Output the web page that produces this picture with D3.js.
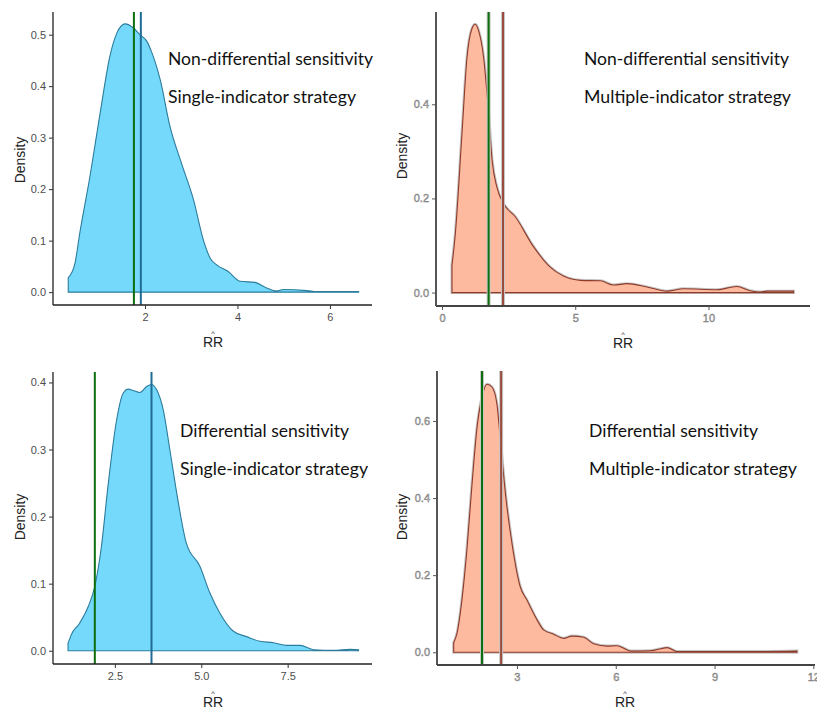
<!DOCTYPE html>
<html><head><meta charset="utf-8">
<script src="https://cdn.jsdelivr.net/npm/d3@7"></script>
<style>body{margin:0;background:#fff}svg{display:block}</style>
</head><body><svg id="c" width="817" height="711"></svg>
<script>
// ---------- data ----------
const rrNdSingle   = [0.34,0.485,0.59,0.81,1.03,1.24,1.39,1.57,1.75,1.89,2.04,2.14,2.33,2.54,2.79,3.05,3.26,3.41,3.55,3.80,4.06,4.38,4.63,4.85,4.99,5.50,5.72,6.37,6.62];
const densNdSingle = [0.028,0.056,0.115,0.225,0.348,0.458,0.503,0.521,0.513,0.500,0.487,0.467,0.412,0.322,0.250,0.179,0.102,0.066,0.053,0.040,0.021,0.019,0.008,0.002,0.005,0.003,0.001,0.001,0.001];
const rrNdMulti    = [0.375,0.5,0.75,0.94,1.12,1.25,1.37,1.56,1.75,1.88,2.06,2.31,2.75,3.44,4.06,4.56,5.19,5.94,6.44,6.94,7.69,8.44,9.06,10.31,11.06,11.56,11.94,12.19,13.19];
const densNdMulti  = [0.058,0.125,0.338,0.5,0.56,0.57,0.557,0.5,0.38,0.281,0.224,0.189,0.161,0.097,0.054,0.035,0.026,0.025,0.016,0.019,0.012,0.003,0.008,0.006,0.013,0.004,0.001,0.003,0.003];
const rrDSingle    = [1.145,1.24,1.48,1.73,1.92,2.11,2.30,2.55,2.74,2.89,3.03,3.22,3.42,3.56,3.71,3.90,4.09,4.29,4.57,4.96,5.25,5.54,5.93,6.31,6.70,7.09,7.48,7.86,8.25,8.83,9.31,9.55];
const densDSingle  = [0.011,0.024,0.041,0.066,0.096,0.155,0.245,0.344,0.384,0.39,0.388,0.385,0.394,0.397,0.389,0.359,0.30,0.235,0.16,0.126,0.086,0.056,0.029,0.021,0.014,0.012,0.008,0.008,0.0015,0.0005,0.002,0.0015];
const rrDMulti     = [1.08,1.18,1.33,1.48,1.63,1.79,1.94,2.09,2.24,2.39,2.49,2.65,2.85,3.10,3.30,3.61,3.81,4.11,4.42,4.67,5.03,5.33,5.74,6.04,6.45,7.05,7.56,7.86,8.57,10.6,11.5];
const densDMulti   = [0.025,0.049,0.136,0.265,0.429,0.584,0.662,0.695,0.688,0.645,0.558,0.412,0.282,0.17,0.136,0.084,0.058,0.047,0.036,0.042,0.039,0.022,0.016,0.017,0.0035,0.004,0.012,0.002,0.002,0.002,0.003];

const trueRR       = [1.76, 1.75, 1.92, 1.94];   // green reference lines
const meanRR       = [1.91, 2.29, 3.56, 2.52];   // blue / brown lines

const xTicksNdSingle = [2,4,6];
const xTicksNdMulti  = [0,5,10];
const xTicksDSingle  = [2.5,5.0,7.5];
const xTicksDMulti   = [3,6,9,12];
const yTicksNdSingle = [0,0.1,0.2,0.3,0.4,0.5];
const yTicksNdMulti  = [0,0.2,0.4];
const yTicksDSingle  = [0,0.1,0.2,0.3,0.4];
const yTicksDMulti   = [0,0.2,0.4,0.6];

const sensitivityLabels = ["Non-differential sensitivity","Non-differential sensitivity","Differential sensitivity","Differential sensitivity"];
const strategyLabels    = ["Single-indicator strategy","Multiple-indicator strategy","Single-indicator strategy","Multiple-indicator strategy"];
const xTitle = "RR";
const yTitle = "Density";

// ---------- layout ----------
const svg = d3.select("#c");
const BLUE = {fill:"#75D9FC", stroke:"#2B7C9C", vline:"#1F6C96"};
const RED  = {fill:"#FDBA9E", stroke:"#8E3B2B", vline:"#9A4B3C"};
const GREEN = "#0C6E0C";
const SANS = "'Liberation Sans', Arial, sans-serif";

const panels = [
  {rr:rrNdSingle, d:densNdSingle, xt:xTicksNdSingle, yt:yTicksNdSingle, xf:d3.format(".0f"),
   frame:[53,372,12,305], xd:[0.01,6.91], yd:[-0.025,0.544], col:BLUE, halo:false,
   lab:[168,65,205,188], yl:[20,160], xl:[213,347]},
  {rr:rrNdMulti, d:densNdMulti, xt:xTicksNdMulti, yt:yTicksNdMulti, xf:d3.format(".0f"),
   frame:[436,810,12,306], xd:[-0.225,13.81], yd:[-0.0285,0.596], col:RED, halo:true,
   lab:[584,65,205,207], yl:[402,156], xl:[623,348]},
  {rr:rrDSingle, d:densDSingle, xt:xTicksDSingle, yt:yTicksDSingle, xf:d3.format(".1f"),
   frame:[53,372,372,664], xd:[0.71,9.94], yd:[-0.0198,0.4156], col:BLUE, halo:false,
   lab:[180,437,169,188], yl:[20,517], xl:[213,707]},
  {rr:rrDMulti, d:densDMulti, xt:xTicksDMulti, yt:yTicksDMulti, xf:d3.format(".0f"),
   frame:[437,815,371,665], xd:[0.573,12.05], yd:[-0.033,0.7295], col:RED, halo:true,
   lab:[589,437,169,208], yl:[402,517], xl:[625,707]}
];

panels.forEach((p,i)=>{
  const [L,R,T,B] = p.frame;
  const x = d3.scaleLinear().domain(p.xd).range([L,R]);
  const y = d3.scaleLinear().domain(p.yd).range([B,T]);
  const g = svg.append("g");
  const pts = p.rr.map((v,k)=>[v,p.d[k]]);
  const area = d3.area().x(q=>x(q[0])).y0(y(0)).y1(q=>y(q[1])).curve(d3.curveMonotoneX);
  const pathD = area(pts);
  if (p.halo) g.append("path").attr("d",pathD).attr("fill","none").attr("stroke","#c4c4c4").attr("stroke-width",3);
  g.append("path").attr("d",pathD).attr("fill",p.col.fill).attr("stroke",p.col.stroke).attr("stroke-width",1.1);

  // vertical lines
  [[trueRR[i],GREEN],[meanRR[i],p.col.vline]].forEach(([v,c])=>{
    if (p.halo) g.append("line").attr("x1",x(v)).attr("x2",x(v)).attr("y1",T).attr("y2",B)
      .attr("stroke","#c8c8c8").attr("stroke-width",4);
    g.append("line").attr("x1",x(v)).attr("x2",x(v)).attr("y1",T).attr("y2",B)
      .attr("stroke",c).attr("stroke-width",2);
  });

  // axes
  const tickCol = p.halo ? "#555" : "#333";
  const xa = d3.axisBottom(x).tickValues(p.xt).tickFormat(p.xf).tickSize(4).tickPadding(4);
  const ya = d3.axisLeft(y).tickValues(p.yt).tickFormat(d3.format(".1f")).tickSize(4).tickPadding(3);
  const gx = g.append("g").attr("transform",`translate(0,${B})`).call(xa);
  const gy = g.append("g").attr("transform",`translate(${L},0)`).call(ya);
  [gx,gy].forEach(a=>{
    a.select(".domain").attr("stroke", p.halo ? "#444" : "#222").attr("stroke-width", p.halo?1.8:1.3);
    a.selectAll(".tick line").attr("stroke",tickCol).attr("stroke-width",1);
    a.selectAll(".tick text").attr("font-family",SANS).attr("font-size",11)
      .attr("fill", p.halo ? "#b4b4b4" : "#4D4D4D")
      .attr("stroke", p.halo ? "#7a7a7a" : "none").attr("stroke-width", p.halo?0.45:0);
  });
  gx.select(".domain").attr("d",`M${L},0H${R}`);
  gy.select(".domain").attr("d",`M0,${B}V${T}`);

  // axis titles
  g.append("text").attr("transform",`translate(${p.yl[0]},${p.yl[1]}) rotate(-90)`)
    .attr("text-anchor","middle").attr("dy","0.35em")
    .attr("font-family",SANS).attr("font-size",14).attr("fill","#222").text(yTitle);
  g.append("text").attr("x",p.xl[0]).attr("y",p.xl[1]).attr("text-anchor","middle")
    .attr("font-family",SANS).attr("font-size",14).attr("fill","#222").text(xTitle);
  g.append("text").attr("x",p.xl[0]).attr("y",p.xl[1]-11.5).attr("text-anchor","middle")
    .attr("font-family",SANS).attr("font-size",7.5).attr("fill","#222").text("^");

  // annotations
  const [ax,ay,w1,w2] = p.lab;
  g.append("text").attr("x",ax).attr("y",ay).attr("font-family","Lato, 'Open Sans', sans-serif")
    .attr("font-size",17.5).attr("fill","#111").attr("textLength",w1).attr("lengthAdjust","spacingAndGlyphs")
    .text(sensitivityLabels[i]);
  g.append("text").attr("x",ax).attr("y",ay+38).attr("font-family","Lato, 'Open Sans', sans-serif")
    .attr("font-size",17.5).attr("fill","#111").attr("textLength",w2).attr("lengthAdjust","spacingAndGlyphs")
    .text(strategyLabels[i]);
});
</script></body></html>
